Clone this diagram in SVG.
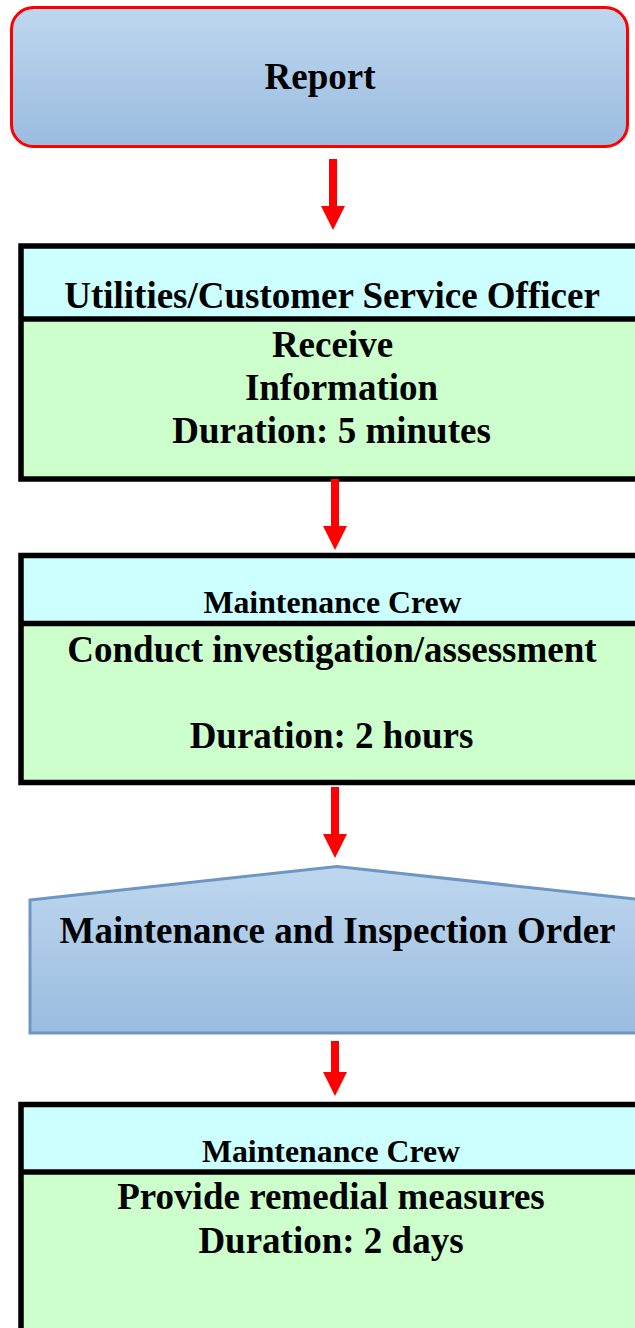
<svg xmlns="http://www.w3.org/2000/svg" width="635" height="1328" viewBox="0 0 635 1328">
  <defs>
    <linearGradient id="blueFill" x1="0" y1="0" x2="0" y2="1">
      <stop offset="0" stop-color="#bed7ef"/>
      <stop offset="1" stop-color="#9abcdf"/>
    </linearGradient>
    <marker id="head" viewBox="0 0 24 24" markerUnits="userSpaceOnUse" markerWidth="24" markerHeight="24" refX="0" refY="12" orient="auto">
      <path d="M0,0 L24,12 L0,24 z" fill="#ff0000"/>
    </marker>
    <style>
      text { font-family: "Liberation Serif", "Times New Roman", serif; font-weight: bold; fill: #000; text-anchor: middle; }
      .big { font-size: 37px; }
      .role { font-size: 31.8px; }
      .frame { fill: none; stroke: #000; stroke-width: 5.5; }
      .hdr { fill: #ccffff; }
      .body { fill: #ccffcc; }
      .flow { stroke: #ff0000; stroke-width: 8; fill: none; marker-end: url(#head); }
    </style>
  </defs>

  <rect width="635" height="1328" fill="#ffffff"/>

  <!-- start: report -->
  <g id="report">
    <rect x="11.5" y="7.5" width="616" height="139" rx="22" ry="22" fill="url(#blueFill)" stroke="#ff0000" stroke-width="3"/>
    <text class="big" x="320" y="89">Report</text>
  </g>

  <!-- step 1: customer service officer -->
  <g id="receive">
    <rect class="hdr" x="21" y="246" width="625" height="73"/>
    <rect class="body" x="21" y="319" width="625" height="160"/>
    <rect class="frame" x="21" y="246" width="625" height="233"/>
    <line x1="21" y1="319" x2="646" y2="319" stroke="#000" stroke-width="5.5"/>
    <text class="big" x="332" y="308">Utilities/Customer Service Officer</text>
    <text class="big" x="332.5" y="357">Receive</text>
    <text class="big" x="341.5" y="400">Information</text>
    <text class="big" x="331.5" y="443">Duration: 5 minutes</text>
  </g>

  <!-- step 2: investigation -->
  <g id="investigate">
    <rect class="hdr" x="21" y="555.5" width="625" height="68"/>
    <rect class="body" x="21" y="623.5" width="625" height="159"/>
    <rect class="frame" x="21" y="555.5" width="625" height="227"/>
    <line x1="21" y1="623.5" x2="646" y2="623.5" stroke="#000" stroke-width="5.5"/>
    <text class="role" x="332.5" y="613">Maintenance Crew</text>
    <text class="big" x="332" y="662">Conduct investigation/assessment</text>
    <text class="big" x="331.5" y="748">Duration: 2 hours</text>
  </g>

  <!-- step 3: work order -->
  <g id="order">
    <path d="M30,900 L337,866.5 L644,900 L644,1033 L30,1033 Z" fill="url(#blueFill)" stroke="#6e96c1" stroke-width="3"/>
    <text class="big" x="337.5" y="943">Maintenance and Inspection Order</text>
  </g>

  <!-- step 4: remedial works -->
  <g id="remedy">
    <rect class="hdr" x="21" y="1104.5" width="625" height="67.5"/>
    <rect class="body" x="21" y="1172" width="625" height="170"/>
    <rect class="frame" x="21" y="1104.5" width="625" height="240"/>
    <line x1="21" y1="1172" x2="646" y2="1172" stroke="#000" stroke-width="5.5"/>
    <text class="role" x="331" y="1162">Maintenance Crew</text>
    <text class="big" x="331" y="1209">Provide remedial measures</text>
    <text class="big" x="331" y="1253">Duration: 2 days</text>
  </g>

  <!-- connectors -->
  <g id="connectors">
    <line class="flow" x1="333" y1="159" x2="333" y2="206"/>
    <line class="flow" x1="335" y1="479" x2="335" y2="526"/>
    <line class="flow" x1="335" y1="787" x2="335" y2="834"/>
    <line class="flow" x1="335" y1="1041" x2="335" y2="1072"/>
  </g>
</svg>
